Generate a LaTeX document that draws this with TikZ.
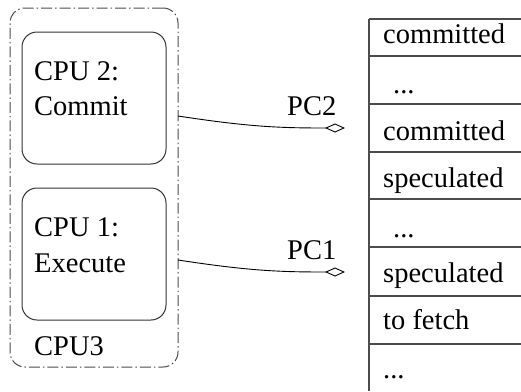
\documentclass[tikz,border=0pt]{standalone}
\usepackage{fontspec}
\setmainfont{Liberation Serif}
\usetikzlibrary{arrows.meta}
\begin{document}
\begin{tikzpicture}[x=1pt,y=-1pt,
  lbl/.style={inner sep=0pt,anchor=base west,font=\fontsize{28.5}{34}\selectfont},
  cpubox/.style={draw=black!80,line width=1pt,rounded corners=15pt,inner sep=0pt},
  outerbox/.style={draw=black!70,line width=1pt,rounded corners=15pt,inner sep=0pt,
    dash pattern=on 11pt off 3pt on 1.5pt off 3pt},
  tabline/.style={draw=black!70,line width=1.6pt},
  pcline/.style={line width=0.9pt,-{Diamond[open,length=20pt,width=9pt,line width=0.9pt]}}]
\useasboundingbox (0,0) rectangle (521,391);
% outer CPU3 box
\node[outerbox,minimum width=168pt,minimum height=359pt] (cpu3) at (94,187.5) {};
\node[cpubox,minimum width=144pt,minimum height=132pt] (cpu2) at (94,98) {};
\node[cpubox,minimum width=144pt,minimum height=132pt] (cpu1) at (94,254) {};
\node[lbl] (t2a) at (34,80) {CPU 2:};
\node[lbl] (t2b) at (34,115) {Commit};
\node[lbl] (t1a) at (34,236) {CPU 1:};
\node[lbl] (t1b) at (34,272) {Execute};
\node[lbl] (t3) at (34,355) {CPU3};
% table
\draw[tabline] (369,19) -- (369,391);
\foreach \y in {19,56,104,152,199,247,296,344}{\draw[tabline] (369,\y) -- (521,\y);}
\node[lbl] (r1) at (383,43) {committed};
\node[lbl] (r2) at (393,93) {...};
\node[lbl] (r3) at (383,140) {committed};
\node[lbl] (r4) at (383,187) {speculated};
\node[lbl] (r5) at (393,237) {...};
\node[lbl] (r6) at (383,282) {speculated};
\node[lbl] (r7) at (383,329) {to fetch};
\node[lbl] (r8) at (383,378) {...};
% connectors
\coordinate (s2) at (178,116);
\coordinate (e2) at (345,128);
\coordinate (s1) at (178,260);
\coordinate (e1) at (345,272);
\draw[pcline] (s2) .. controls (250,127) and (280,128) .. (e2);
\draw[pcline] (s1) .. controls (250,271) and (280,272) .. (e1);
\node[lbl] (pc2) at (287,115) {PC2};
\node[lbl] (pc1) at (287,259) {PC1};
\end{tikzpicture}
\end{document}
